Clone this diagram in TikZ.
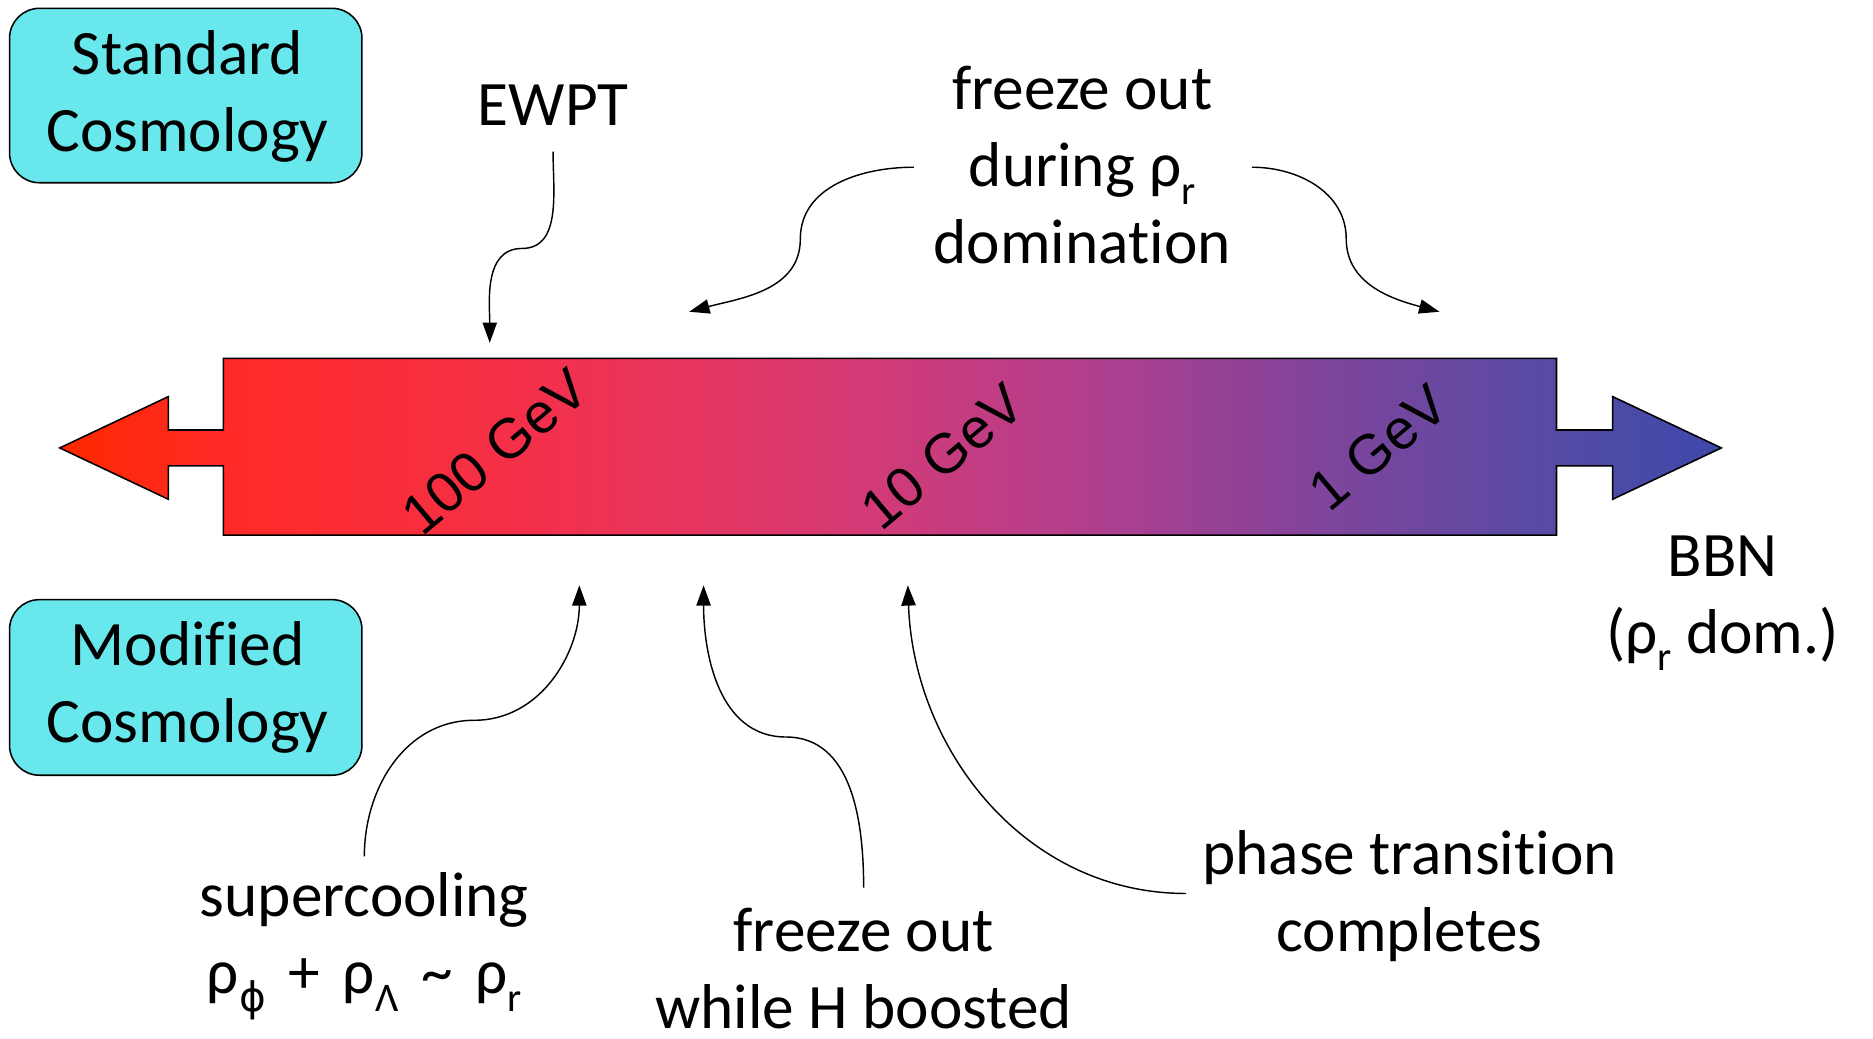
\documentclass[tikz,border=0pt]{standalone}
\usepackage{fontspec}
\setmainfont{Carlito}[Ligatures=NoCommon]
\newfontfamily\arialfont{Liberation Sans}
\newfontfamily\symfont{DejaVu Sans}
\usetikzlibrary{arrows.meta}

% red-to-blue colour ramp along the time axis
\pgfdeclarehorizontalshading{timebar}{100bp}{%
  rgb(0bp)=(1,0.157,0);
  rgb(25bp)=(1,0.157,0);
  rgb(29.9bp)=(1,0.165,0.149);
  rgb(39.4bp)=(0.953,0.188,0.294);
  rgb(48.4bp)=(0.843,0.227,0.451);
  rgb(55.5bp)=(0.706,0.243,0.549);
  rgb(62.7bp)=(0.51,0.267,0.608);
  rgb(70bp)=(0.333,0.294,0.647);
  rgb(75bp)=(0.243,0.282,0.667);
  rgb(100bp)=(0.243,0.282,0.667)}

\definecolor{boxcyan}{RGB}{104,232,236}
\newcommand\sbr[1]{\raisebox{-0.28em}{\fontsize{34}{34}\selectfont #1}}
\newcommand\gap{\hspace{19pt}}

\tikzset{
  txt/.style={font=\fontsize{53}{64.5}\selectfont, align=center, inner sep=0pt},
  gev/.style={font=\arialfont\fontsize{47}{47}\selectfont, rotate=40, inner sep=0pt},
  cosmobox/.style={draw=black, line width=1.3pt, fill=boxcyan, rounded corners=25pt},
  conn/.style={line width=1.2pt, -{Triangle[length=17pt,width=12pt]}},
}

\begin{document}
\begin{tikzpicture}[x=1pt,y=1pt]
\useasboundingbox (0,0) rectangle (1568,869);

% labelled boxes
\draw[cosmobox] (8,716) rectangle (303,862);
\node[txt] (std) at (157,788.5) {Standard\\Cosmology};
\draw[cosmobox] (8,220) rectangle (303,367);
\node[txt] (mod) at (157,293.5) {Modified\\Cosmology};

% the time axis arrow
\path[shading=timebar, draw=black, line width=1.3pt, line join=miter]
  (50,494) -- (141,537) -- (141,509) -- (187,509) -- (187,569)
  -- (1303,569) -- (1303,509) -- (1350,509) -- (1350,537) -- (1441,494)
  -- (1350,451) -- (1350,479) -- (1303,479) -- (1303,421)
  -- (187,421) -- (187,479) -- (141,479) -- (141,451) -- cycle;

\node[gev] (e100) at (414,491) {100 GeV};
\node[gev] (e10)  at (789,487) {10 GeV};
\node[gev] (e1)   at (1154,494) {1 GeV};

% upper annotations
\node[txt] (ewpt) at (463,781) {EWPT};
\node[txt] (fodur) at (906,731) {freeze out\\during ρ\sbr{r}\\domination};
\node[txt] (bbn) at (1442,364) {BBN\\(ρ\sbr{r} dom.)};

\coordinate (ewptA) at (463,742);
\coordinate (ewptK) at (437,661);
\coordinate (ewptB) at (410,582);
\draw[conn] (ewptA) to[out=-90,in=0] (ewptK) to[out=180,in=90] (ewptB);

\coordinate (fdLA) at (765,729);
\coordinate (fdLK) at (670,669);
\coordinate (fdLB) at (577,608);
\draw[conn] (fdLA) to[out=180,in=90] (fdLK) to[out=-90,in=15] (fdLB);

\coordinate (fdRA) at (1048,729);
\coordinate (fdRK) at (1127,669);
\coordinate (fdRB) at (1205,608);
\draw[conn] (fdRA) to[out=0,in=90] (fdRK) to[out=-90,in=165] (fdRB);

% lower annotations
\node[txt] (super) at (305,77) {supercooling\\ρ\sbr{\symfont ϕ}\gap+\gap ρ\sbr{Λ}\gap\textasciitilde\gap ρ\sbr{r}};
\node[txt] (fowhile) at (723,58) {freeze out\\while H boosted};
\node[txt] (phase) at (1180,119) {phase transition\\completes};

\coordinate (scA) at (305,152);
\coordinate (scK) at (397,266);
\coordinate (scB) at (485,379);
\draw[conn] (scA) to[out=90,in=180] (scK) to[out=0,in=-90] (scB);

\coordinate (fwA) at (723,126);
\coordinate (fwK) at (658,252);
\coordinate (fwB) at (589,379);
\draw[conn] (fwA) to[out=90,in=0] (fwK) to[out=180,in=-90] (fwB);

\coordinate (ptA) at (993,121);
\coordinate (ptB) at (760,379);
\draw[conn] (ptA) to[out=180,in=-88] (ptB);
\end{tikzpicture}
\end{document}
